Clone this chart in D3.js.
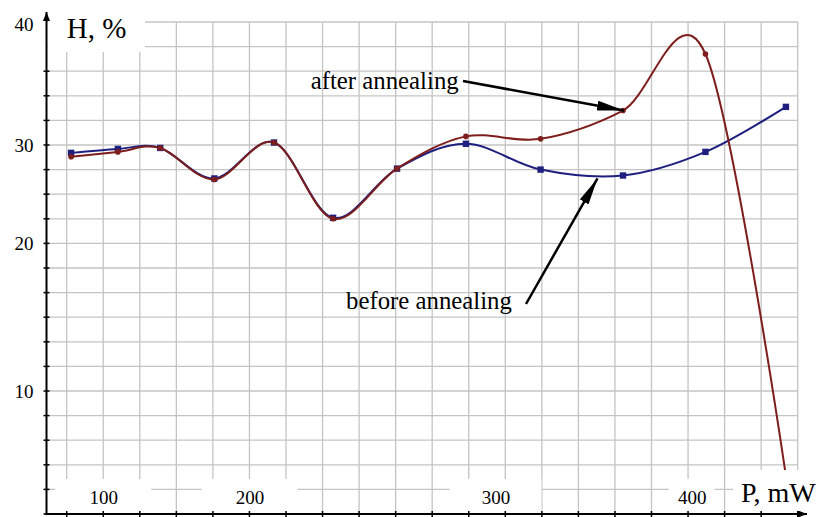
<!DOCTYPE html>
<html>
<head>
<meta charset="utf-8">
<script src="https://cdn.jsdelivr.net/npm/d3@7"></script>
<style>
body { margin: 0; background: #fff; }
svg { display: block; }
text { font-family: 'Liberation Serif', 'Times New Roman', serif; fill: #000; }
</style>
</head>
<body>
<div id="chart"></div>
<script>
// Values
var power = [78, 110, 139, 176, 210, 234, 260, 288, 323, 365, 407, 448];
var beforeAnnealing = [29.2, 29.6, 29.7, 26.6, 30.2, 22.6, 27.6, 30.1, 27.5, 26.9, 29.3, 33.1];
var afterAnnealing = [28.8, 29.3, 29.7, 26.5, 30.2, 22.5, 27.6, 30.7, 30.5, 32.8, 37.4, 3.1];
var xTicks = [100, 200, 300, 400];
var yDomain = [0, 10, 20, 30, 40];
var yTickLabels = [10, 20, 30, 40];

// Layout: the original figure has a uniform grid with hand placed labels
var width = 819, height = 517;
var grid = { left: 66.7, top: 22, cellW: 36.55, cellH: 24.6, n: 20 };
var axisX = 46.5, axisY = 514;
var xTickCells = [1, 5, 11.73, 17.1];   // where each x label sits, in grid cells
var yTickCells = [20, 15, 9, 5, 0];     // where each y value sits, in grid cells
var xBoxHalf = [48, 48, 46, 23];        // white boxes behind x labels
var blue = '#1e1f7e';
var red = '#7e1e1c';

var svg = d3.select('#chart')
	.append('svg')
	.attr('width', width)
	.attr('height', height);

svg.append('rect').attr('width', width).attr('height', height).attr('fill', '#fff');

var defs = svg.append('defs');
function arrowMarker(id, len, wid) {
	defs.append('marker')
		.attr('id', id)
		.attr('markerUnits', 'userSpaceOnUse')
		.attr('markerWidth', len)
		.attr('markerHeight', wid)
		.attr('refX', len)
		.attr('refY', wid / 2)
		.attr('orient', 'auto')
		.append('path')
		.attr('d', 'M0,0 L' + len + ',' + (wid / 2) + ' L0,' + wid + ' Z')
		.attr('fill', '#000');
}
arrowMarker('axisArrow', 9, 7);
arrowMarker('noteArrow', 27, 10);

// grid scales
var gx = d3.scaleLinear().domain([0, grid.n]).range([grid.left, grid.left + grid.n * grid.cellW]);
var gy = d3.scaleLinear().domain([0, grid.n]).range([grid.top, grid.top + grid.n * grid.cellH]);

// data scales (piecewise, following the labels of the figure)
var x = d3.scaleLinear().domain(xTicks).range(xTickCells.map(gx));
var y = d3.scaleLinear().domain(yDomain).range(yTickCells.map(gy));

var cells = d3.range(grid.n + 1);

// Grid
svg.append('g').selectAll('line')
	.data(cells)
	.enter()
	.append('line')
	.attr('x1', axisX).attr('x2', gx(grid.n))
	.attr('y1', function(d) { return gy(d); })
	.attr('y2', function(d) { return gy(d); })
	.attr('stroke', '#c4c4c4')
	.attr('stroke-width', 1.3);

svg.append('g').selectAll('line')
	.data(cells)
	.enter()
	.append('line')
	.attr('x1', function(d) { return gx(d); })
	.attr('x2', function(d) { return gx(d); })
	.attr('y1', gy(0)).attr('y2', axisY)
	.attr('stroke', '#c4c4c4')
	.attr('stroke-width', 1.3);

// Curves
var line = d3.line()
	.x(function(d, i) { return x(power[i]); })
	.y(function(d) { return y(d); })
	.curve(d3.curveCatmullRom.alpha(0));

svg.append('path')
	.datum(beforeAnnealing)
	.attr('d', line)
	.attr('fill', 'none')
	.attr('stroke', blue)
	.attr('stroke-width', 2);

svg.append('g').selectAll('rect')
	.data(beforeAnnealing)
	.enter()
	.append('rect')
	.attr('x', function(d, i) { return x(power[i]) - 3.2; })
	.attr('y', function(d) { return y(d) - 3.2; })
	.attr('width', 6.4)
	.attr('height', 6.4)
	.attr('fill', blue);

svg.append('path')
	.datum(afterAnnealing)
	.attr('d', line)
	.attr('fill', 'none')
	.attr('stroke', red)
	.attr('stroke-width', 2);

svg.append('g').selectAll('circle')
	.data(afterAnnealing)
	.enter()
	.append('circle')
	.attr('cx', function(d, i) { return x(power[i]); })
	.attr('cy', function(d) { return y(d); })
	.attr('r', 2.8)
	.attr('fill', red);

// White label boxes
svg.append('g').selectAll('rect')
	.data(xTicks)
	.enter()
	.append('rect')
	.attr('x', function(d, i) { return x(d) - xBoxHalf[i]; })
	.attr('y', 479)
	.attr('width', function(d, i) { return 2 * xBoxHalf[i]; })
	.attr('height', 33)
	.attr('fill', '#fff');

svg.append('rect').attr('x', 48).attr('y', 0).attr('width', 97).attr('height', 52).attr('fill', '#fff');
svg.append('rect').attr('x', 733).attr('y', 470).attr('width', 86).attr('height', 42).attr('fill', '#fff');

// Axes
var yAxis = svg.append('g')
	.attr('transform', 'translate(' + axisX + ',0)')
	.call(d3.axisLeft(y).tickValues(yTickLabels).tickSize(0).tickPadding(13));
yAxis.select('.domain').remove();
yAxis.selectAll('text')
	.attr('font-size', '19px')
	.attr('font-family', "'Liberation Serif', serif")
	.attr('dy', function(d) { return d == 40 ? '0.45em' : '0.32em'; });

var xAxis = svg.append('g')
	.attr('transform', 'translate(0,' + axisY + ')')
	.call(d3.axisBottom(x).tickValues(xTicks).tickSize(0));
xAxis.select('.domain').remove();
xAxis.selectAll('text')
	.attr('y', -10)
	.attr('dy', 0)
	.attr('font-size', '19px')
	.attr('font-family', "'Liberation Serif', serif");

svg.append('g').selectAll('line')
	.data(cells.filter(function(d) { return d >= 2; }))
	.enter()
	.append('line')
	.attr('x1', axisX - 3).attr('x2', axisX + 3)
	.attr('y1', function(d) { return gy(d); })
	.attr('y2', function(d) { return gy(d); })
	.attr('stroke', '#000')
	.attr('stroke-width', 1.5);

svg.append('g').selectAll('line')
	.data(cells)
	.enter()
	.append('line')
	.attr('x1', function(d) { return gx(d); })
	.attr('x2', function(d) { return gx(d); })
	.attr('y1', axisY - 3).attr('y2', axisY + 3)
	.attr('stroke', '#000')
	.attr('stroke-width', 1.5);

svg.append('line')
	.attr('x1', axisX).attr('y1', axisY + 1)
	.attr('x2', axisX).attr('y2', 12)
	.attr('stroke', '#000').attr('stroke-width', 2)
	.attr('marker-end', 'url(#axisArrow)');

svg.append('line')
	.attr('x1', axisX - 1).attr('y1', axisY)
	.attr('x2', 807).attr('y2', axisY)
	.attr('stroke', '#000').attr('stroke-width', 2)
	.attr('marker-end', 'url(#axisArrow)');

// Axis titles
svg.append('text').attr('x', 66.7).attr('y', 37.5).attr('font-size', '29px').text('H, %');
svg.append('text').attr('x', 741).attr('y', 501.7).attr('font-size', '28px').text('P, mW');

// Annotations
svg.append('text').attr('x', 310.7).attr('y', 89.3).attr('font-size', '24.8px').text('after annealing');
svg.append('line')
	.attr('x1', 463).attr('y1', 81)
	.attr('x2', x(power[9]) + 1).attr('y2', y(afterAnnealing[9]))
	.attr('stroke', '#000').attr('stroke-width', 2.5)
	.attr('marker-end', 'url(#noteArrow)');

svg.append('text').attr('x', 346).attr('y', 309.3).attr('font-size', '24.8px').text('before annealing');
svg.append('line')
	.attr('x1', 526).attr('y1', 304)
	.attr('x2', x(352)).attr('y2', y(26.6))
	.attr('stroke', '#000').attr('stroke-width', 2.5)
	.attr('marker-end', 'url(#noteArrow)');
</script>
</body>
</html>
